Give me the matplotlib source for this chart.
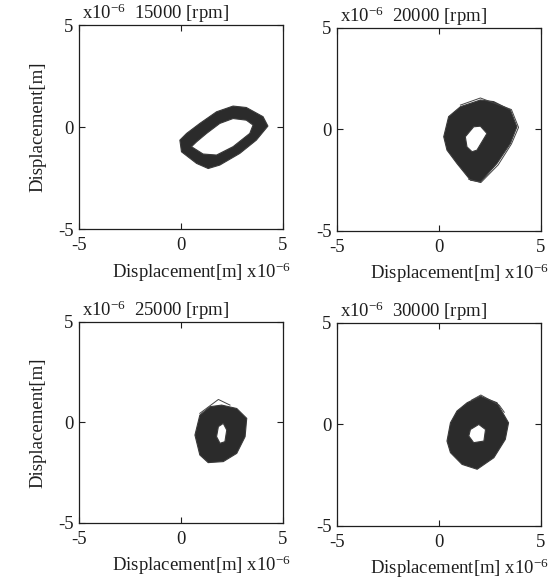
import matplotlib
matplotlib.use("Agg")
import matplotlib.pyplot as plt
from matplotlib.path import Path
from matplotlib.patches import PathPatch
import numpy as np

plt.rcParams['font.family'] = ['Liberation Serif', 'DejaVu Serif']
plt.rcParams['mathtext.fontset'] = 'custom'
plt.rcParams['mathtext.rm'] = 'Liberation Serif'
plt.rcParams['mathtext.it'] = 'Liberation Serif'

speeds = ["15000", "20000", "25000", "30000"]
ticks = [-5, 0, 5]
tick_labels = ["-5", "0", "5"]

# Orbit band boundaries (x1e-6 m)
outer_15000_x = [-0.05, 0.03, 0.77, 1.34, 1.91, 2.89, 3.70, 4.27, 4.03, 3.21, 2.56, 1.75, 0.93, 0.28]
outer_15000_y = [-0.64, -1.21, -1.78, -2.03, -1.86, -1.29, -0.64, 0.05, 0.51, 0.96, 1.03, 0.75, 0.18, -0.31]
inner_15000_x = [0.52, 1.09, 1.75, 2.56, 3.38, 3.54, 3.21, 2.56, 1.91, 1.26, 0.77]
inner_15000_y = [-0.96, -1.32, -1.37, -0.96, -0.31, 0.10, 0.34, 0.42, 0.18, -0.31, -0.72]

outer_20000_x = [0.23, 0.47, 1.05, 2.03, 2.68, 3.50, 3.82, 3.50, 2.84, 2.03, 1.54, 0.88, 0.39]
outer_20000_y = [-0.36, 0.63, 1.12, 1.45, 1.37, 0.96, 0.13, -0.69, -1.68, -2.59, -2.50, -1.68, -1.02]
inner_20000_x = [1.29, 1.70, 2.03, 2.35, 1.86, 1.62, 1.37]
inner_20000_y = [-0.36, 0.13, 0.16, -0.20, -1.02, -1.10, -0.86]
extra_20000_x = [1.05, 2.03, 3.55, 3.90, 3.55, 2.90, 2.05, 1.45]
extra_20000_y = [1.20, 1.55, 0.98, 0.10, -0.72, -1.75, -2.62, -2.45]

outer_25000_x = [0.69, 0.93, 1.43, 2.00, 2.74, 3.23, 3.15, 2.74, 2.08, 1.34, 0.93]
outer_25000_y = [-0.63, 0.36, 0.78, 0.86, 0.69, 0.20, -0.71, -1.54, -1.95, -2.00, -1.62]
inner_25000_x = [1.75, 1.84, 2.08, 2.25, 2.16, 1.92]
inner_25000_y = [-0.71, -0.21, -0.05, -0.38, -0.96, -1.04]
extra_25000_x = [0.93, 1.84, 2.41]
extra_25000_y = [0.45, 1.14, 0.86]

outer_30000_x = [0.39, 0.56, 0.88, 1.38, 2.03, 2.84, 3.41, 3.25, 2.69, 1.87, 1.13, 0.56]
outer_30000_y = [-0.82, 0.08, 0.66, 1.07, 1.39, 1.07, 0.08, -0.74, -1.64, -2.21, -1.97, -1.39]
inner_30000_x = [1.46, 1.54, 1.95, 2.28, 2.20, 1.70]
inner_30000_y = [-0.57, -0.25, 0.00, -0.25, -0.82, -0.90]
extra_30000_x = [1.60, 2.05, 2.95, 3.20]
extra_30000_y = [1.20, 1.45, 0.95, 0.60]

orbits = [
    (outer_15000_x, outer_15000_y, inner_15000_x, inner_15000_y, None, None),
    (outer_20000_x, outer_20000_y, inner_20000_x, inner_20000_y, extra_20000_x, extra_20000_y),
    (outer_25000_x, outer_25000_y, inner_25000_x, inner_25000_y, extra_25000_x, extra_25000_y),
    (outer_30000_x, outer_30000_y, inner_30000_x, inner_30000_y, extra_30000_x, extra_30000_y),
]

positions = [
    [0.141, 0.607, 0.364, 0.350],
    [0.602, 0.604, 0.364, 0.348],
    [0.141, 0.103, 0.364, 0.345],
    [0.602, 0.098, 0.364, 0.348],
]

def signed_area(x, y):
    x = np.asarray(x); y = np.asarray(y)
    return 0.5 * np.sum(x * np.roll(y, -1) - np.roll(x, -1) * y)

fig = plt.figure(figsize=(5.6, 5.83), dpi=100)
ink = '#1e1e1e'
fs = 13.5

for i, (speed, pos, orb) in enumerate(zip(speeds, positions, orbits)):
    ax = fig.add_axes(pos)
    ox, oy, ix, iy, ex, ey = orb
    ox, oy, ix, iy = list(ox), list(oy), list(ix), list(iy)
    if signed_area(ox, oy) < 0:
        ox, oy = ox[::-1], oy[::-1]
    if signed_area(ix, iy) > 0:
        ix, iy = ix[::-1], iy[::-1]
    verts = list(zip(ox, oy)) + [(ox[0], oy[0])] + list(zip(ix, iy)) + [(ix[0], iy[0])]
    codes = ([Path.MOVETO] + [Path.LINETO] * (len(ox) - 1) + [Path.CLOSEPOLY]
             + [Path.MOVETO] + [Path.LINETO] * (len(ix) - 1) + [Path.CLOSEPOLY])
    patch = PathPatch(Path(verts, codes), facecolor='#2b2b2b', edgecolor='#3a3a3a', lw=0.8)
    ax.add_patch(patch)
    if ex is not None:
        ax.plot(ex, ey, color='#444444', lw=0.7)

    ax.set_xlim(-5, 5)
    ax.set_ylim(-5, 5)
    ax.set_xticks(ticks)
    ax.set_yticks(ticks)
    ax.set_xticklabels(tick_labels, fontsize=fs, color=ink)
    ax.set_yticklabels(tick_labels, fontsize=fs, color=ink)
    ax.tick_params(direction='in', length=4, width=0.8, top=True, right=True,
                   colors=ink, pad=6)
    ax.tick_params(axis='y', pad=4)
    for s in ax.spines.values():
        s.set_linewidth(0.9)
        s.set_color(ink)

    ax.text(0.015, 1.0, r"x10$^{-6}$  " + speed + " [rpm]", transform=ax.transAxes,
            ha='left', va='bottom', fontsize=fs, color=ink)
    ax.text(1.04, -0.21, r"Displacement[m] x10$^{-6}$", transform=ax.transAxes,
            ha='right', va='center', fontsize=fs, color=ink)
    if i % 2 == 0:
        ax.set_ylabel("Displacement[m]", fontsize=fs, color=ink, labelpad=8)

fig.savefig("out.png", dpi=100, facecolor='white')
